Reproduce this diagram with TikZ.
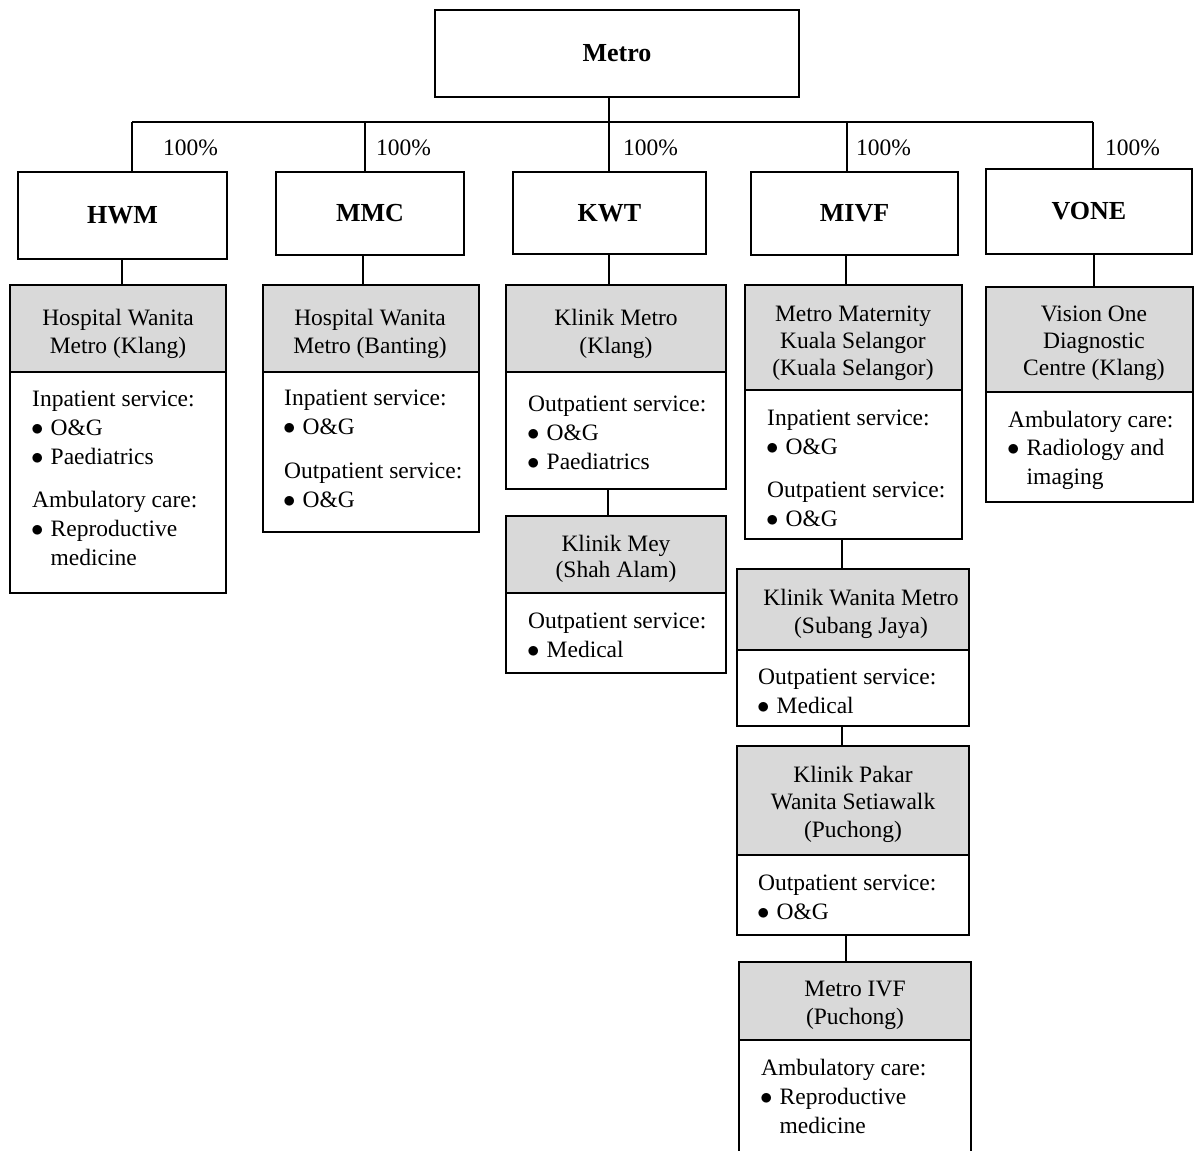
\documentclass[tikz,border=0pt]{standalone}
\usepackage{fontspec}
\setmainfont{Liberation Serif}
\definecolor{hdr}{RGB}{217,217,217}
\newcommand\bul{\makebox[18.5pt][l]{\hspace{-1pt}$\bullet$}}
\newcommand\ind{\makebox[18.5pt]{}}
\begin{document}
\begin{tikzpicture}[x=1pt,y=-1pt,
  lvone/.style={draw, line width=2pt, rectangle, inner sep=0pt, outer sep=0pt, font=\fontsize{26}{30}\selectfont\bfseries},
  hbox/.style={draw, fill=hdr, line width=2pt, rectangle, anchor=north west, inner sep=0pt, outer sep=0pt},
  bbox/.style={draw, fill=white, line width=2pt, rectangle, anchor=north west, inner sep=0pt, outer sep=0pt},
  htxt/.style={anchor=north, inner sep=0pt, align=center},
  btxt/.style={anchor=north west, inner sep=0pt, align=left, font=\fontsize{23.5}{29}\selectfont},
  pct/.style={anchor=base west, inner sep=0pt, font=\fontsize{23.5}{28}\selectfont},
  conn/.style={line width=1.1pt}]
\useasboundingbox (0,0) rectangle (1194,1151);

% level 0 and 1
\node[lvone, minimum width=364pt, minimum height=87pt] (Metro) at (617,53.5) {Metro};
\node[lvone, minimum width=209pt, minimum height=87pt] (HWM) at (122.5,215.5) {HWM};
\node[lvone, minimum width=188pt, minimum height=83pt] (MMC) at (370,213.5) {MMC};
\node[lvone, minimum width=193pt, minimum height=82pt] (KWT) at (609.5,213) {KWT};
\node[lvone, minimum width=207pt, minimum height=83pt] (MIVF) at (854.5,213.5) {MIVF};
\node[lvone, minimum width=206pt, minimum height=85pt] (VONE) at (1089,211.5) {VONE};

% bus
\coordinate (bus1) at (132,122);
\coordinate (bus2) at (365,122);
\coordinate (bus3) at (609,122);
\coordinate (bus4) at (847,122);
\coordinate (bus5) at (1093,122);
\draw[conn] (bus1) -- (bus5);
\draw[conn] (Metro.south -| bus3) -- (KWT.north -| bus3);
\draw[conn] (bus1) -- (bus1 |- HWM.north);
\draw[conn] (bus2) -- (bus2 |- MMC.north);
\draw[conn] (bus4) -- (bus4 |- MIVF.north);
\draw[conn] (bus5) -- (bus5 |- VONE.north);

\node[pct] (p1) at (163,155) {100\%};
\node[pct] (p2) at (376,155) {100\%};
\node[pct] (p3) at (623,155) {100\%};
\node[pct] (p4) at (856,155) {100\%};
\node[pct] (p5) at (1105,155) {100\%};

% level 2 boxes
\node[hbox, minimum width=216pt, minimum height=87pt] (hwmH) at (10,285) {};
\node[bbox, minimum width=216pt, minimum height=221pt] (hwmB) at (hwmH.south west) {};
\node[hbox, minimum width=216pt, minimum height=87pt] (mmcH) at (263,285) {};
\node[bbox, minimum width=216pt, minimum height=160pt] (mmcB) at (mmcH.south west) {};
\node[hbox, minimum width=220pt, minimum height=87pt] (kmH) at (506,285) {};
\node[bbox, minimum width=220pt, minimum height=117pt] (kmB) at (kmH.south west) {};
\node[hbox, minimum width=217pt, minimum height=105pt] (mmH) at (745,285) {};
\node[bbox, minimum width=217pt, minimum height=149pt] (mmB) at (mmH.south west) {};
\node[hbox, minimum width=207pt, minimum height=105pt] (voH) at (986,287) {};
\node[bbox, minimum width=207pt, minimum height=110pt] (voB) at (voH.south west) {};
\node[hbox, minimum width=220pt, minimum height=77pt] (meyH) at (506,516) {};
\node[bbox, minimum width=220pt, minimum height=80pt] (meyB) at (meyH.south west) {};
\node[hbox, minimum width=232pt, minimum height=81pt] (kwH) at (737,569) {};
\node[bbox, minimum width=232pt, minimum height=76pt] (kwB) at (kwH.south west) {};
\node[hbox, minimum width=232pt, minimum height=109pt] (kpH) at (737,746) {};
\node[bbox, minimum width=232pt, minimum height=80pt] (kpB) at (kpH.south west) {};
\node[hbox, minimum width=232pt, minimum height=78pt] (ivfH) at (739,962) {};
\node[bbox, minimum width=232pt, minimum height=130pt] (ivfB) at (ivfH.south west) {};

% connectors level 1 -> 2
\coordinate (c1) at (122,0);
\coordinate (c2) at (363,0);
\coordinate (c3) at (609,0);
\coordinate (c4) at (846,0);
\coordinate (c5) at (1094,0);
\coordinate (c6) at (608,0);
\coordinate (c7) at (842,0);
\coordinate (c8) at (846,0);
\draw[conn] (HWM.south -| c1) -- (hwmH.north -| c1);
\draw[conn] (MMC.south -| c2) -- (mmcH.north -| c2);
\draw[conn] (KWT.south -| c3) -- (kmH.north -| c3);
\draw[conn] (MIVF.south -| c4) -- (mmH.north -| c4);
\draw[conn] (VONE.south -| c5) -- (voH.north -| c5);
\draw[conn] (kmB.south -| c6) -- (meyH.north -| c6);
\draw[conn] (mmB.south -| c7) -- (kwH.north -| c7);
\draw[conn] (kwB.south -| c7) -- (kpH.north -| c7);
\draw[conn] (kpB.south -| c8) -- (ivfH.north -| c8);

% header texts
\node[htxt, font=\fontsize{23.5}{28}\selectfont] (hwmT) at (118,305.4) {\strut Hospital Wanita\\Metro (Klang)};
\node[htxt, font=\fontsize{23.5}{28}\selectfont] (mmcT) at (370,305.4) {\strut Hospital Wanita\\Metro (Banting)};
\node[htxt, font=\fontsize{23.5}{28}\selectfont] (kmT) at (616,305.4) {\strut Klinik Metro\\(Klang)};
\node[htxt, font=\fontsize{23.5}{27}\selectfont] (mmT) at (853,302.1) {\strut Metro Maternity\\Kuala Selangor\\(Kuala Selangor)};
\node[htxt, font=\fontsize{23.5}{27}\selectfont] (voT) at (1094,302.1) {\strut Vision One\\Diagnostic\\Centre (Klang)};
\node[htxt, font=\fontsize{23.5}{26}\selectfont] (meyT) at (616,532.8) {\strut Klinik Mey\\(Shah Alam)};
\node[htxt, font=\fontsize{23.5}{28}\selectfont] (kwT) at (861,585.4) {\strut Klinik Wanita Metro\\(Subang Jaya)};
\node[htxt, font=\fontsize{23.5}{27.5}\selectfont] (kpT) at (853,762.75) {\strut Klinik Pakar\\Wanita Setiawalk\\(Puchong)};
\node[htxt, font=\fontsize{23.5}{28}\selectfont] (ivfT) at (855,976.4) {\strut Metro IVF\\(Puchong)};

% body texts
\node[btxt] (hwmX) at (32,385.7) {\strut Inpatient service:\\\bul O\&G\\\bul Paediatrics\\[14pt]Ambulatory care:\\\bul Reproductive\\\ind medicine};
\node[btxt] (mmcX) at (284,384.7) {\strut Inpatient service:\\\bul O\&G\\[15pt]Outpatient service:\\\bul O\&G};
\node[btxt] (kmX) at (528,390.7) {\strut Outpatient service:\\\bul O\&G\\\bul Paediatrics};
\node[btxt] (meyX) at (528,607.7) {\strut Outpatient service:\\\bul Medical};
\node[btxt] (mmX) at (767,404.7) {\strut Inpatient service:\\\bul O\&G\\[14pt]Outpatient service:\\\bul O\&G};
\node[btxt, font=\fontsize{23.5}{28.5}\selectfont] (voX) at (1008,407) {\strut Ambulatory care:\\\bul Radiology and\\\ind imaging};
\node[btxt] (kwX) at (758,663.7) {\strut Outpatient service:\\\bul Medical};
\node[btxt] (kpX) at (758,869.7) {\strut Outpatient service:\\\bul O\&G};
\node[btxt] (ivfX) at (761,1054.7) {\strut Ambulatory care:\\\bul Reproductive\\\ind medicine};
\end{tikzpicture}
\end{document}
